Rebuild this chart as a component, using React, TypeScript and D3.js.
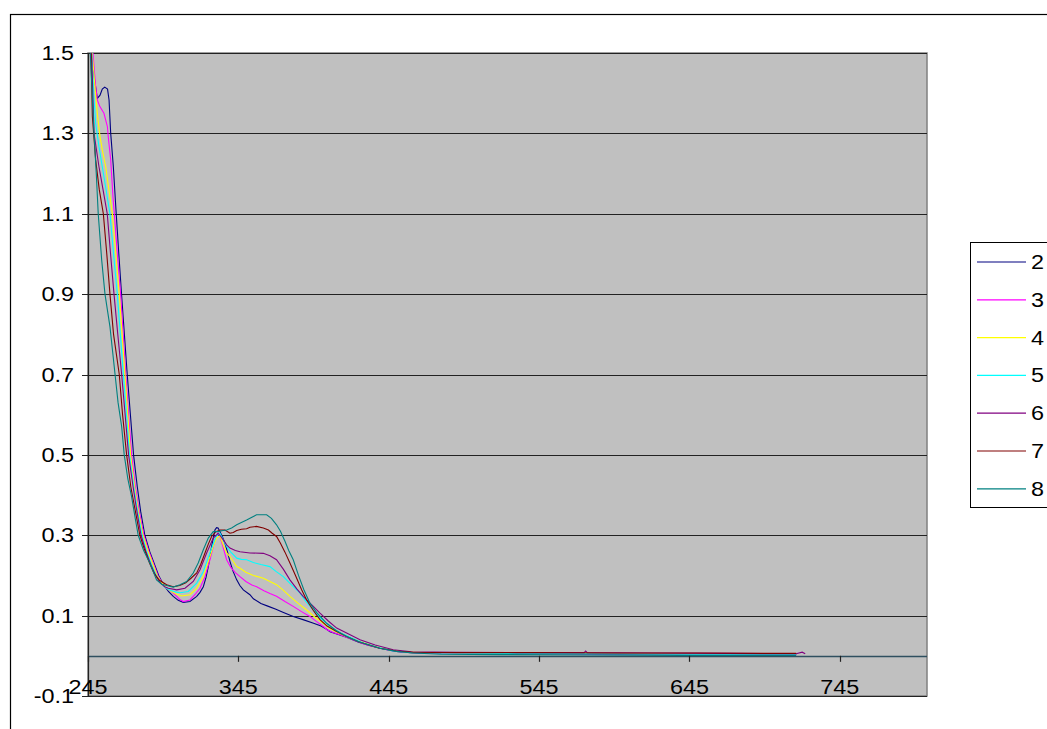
import React from "react";
import * as d3 from "d3";

// Absorbance spectra (wavelength nm, absorbance) for samples 2–8
type Pt = [number, number];

const SERIES_NAMES = ["2", "3", "4", "5", "6", "7", "8"];
const SERIES_COLORS = ["#000080", "#FF00FF", "#FFFF00", "#00FFFF", "#800080", "#800000", "#008080"];

const X_TICKS = [245, 345, 445, 545, 645, 745];
const Y_TICKS = [-0.1, 0.1, 0.3, 0.5, 0.7, 0.9, 1.1, 1.3, 1.5];

const series2: Pt[] = [
  [245, 1.75], [247.2, 1.5], [249.5, 1.43], [251.2, 1.387], [253, 1.395], [254.5, 1.41], [256.1, 1.415],
  [258, 1.41], [259, 1.383], [260.1, 1.3], [261.8, 1.22], [263.6, 1.11], [265.5, 1.0], [267.3, 0.9],
  [269.2, 0.8], [271.1, 0.7], [273.2, 0.6], [275.3, 0.5], [277.8, 0.42], [280, 0.36], [282.8, 0.3],
  [286, 0.26], [289.5, 0.225], [292, 0.2], [295, 0.178], [298.5, 0.16], [301.7, 0.148], [305, 0.138],
  [308.4, 0.133], [312.8, 0.135], [317.3, 0.148], [319.5, 0.158], [321.7, 0.172], [323.5, 0.195],
  [325, 0.222], [327.2, 0.272], [329.4, 0.313], [330.5, 0.319], [331.5, 0.318], [332.8, 0.309],
  [334.5, 0.295], [336.1, 0.28], [337.8, 0.258], [339.4, 0.235], [341.5, 0.21], [343.9, 0.189],
  [346, 0.175], [348.3, 0.164], [352.7, 0.152], [355, 0.142], [360, 0.13], [365, 0.123], [370, 0.116],
  [375, 0.108], [381.5, 0.098], [388, 0.09], [395, 0.081], [400, 0.074], [403.7, 0.066], [406, 0.06],
  [410, 0.055], [417, 0.046], [425, 0.034], [432, 0.026], [440, 0.018], [450, 0.011], [460, 0.008],
  [480, 0.006], [520, 0.005], [560, 0.005], [600, 0.004], [640, 0.004], [680, 0.004], [716, 0.004],
];

const series3: Pt[] = [
  [245, 1.78], [248.3, 1.5], [250, 1.42], [251.2, 1.383], [253, 1.366], [255.6, 1.35], [257.9, 1.317],
  [258.5, 1.29], [260.1, 1.234], [261.6, 1.143], [262.5, 1.1], [264.5, 1.0], [266.7, 0.9], [268.4, 0.8],
  [270.1, 0.7], [272, 0.6], [274, 0.5], [276.5, 0.42], [279, 0.36], [282.2, 0.3], [285.5, 0.26],
  [289, 0.225], [291.5, 0.2], [294.5, 0.18], [297.5, 0.168], [300.6, 0.16], [304, 0.148], [306, 0.14],
  [308.4, 0.135], [312.8, 0.139], [316.1, 0.152], [319.5, 0.168], [322.8, 0.197], [326.1, 0.239],
  [328.3, 0.272], [330, 0.295], [331.2, 0.305], [332.5, 0.3], [334.5, 0.275], [337.2, 0.239],
  [340, 0.22], [343, 0.207], [346.1, 0.197], [350, 0.185], [354, 0.176], [357.2, 0.172], [362, 0.162],
  [366, 0.155], [370.4, 0.148], [376, 0.135], [381.5, 0.123], [387, 0.11], [392.6, 0.098], [397, 0.085],
  [401.5, 0.073], [404, 0.065], [408, 0.058], [413, 0.052], [420, 0.042], [428, 0.03], [436, 0.022],
  [445, 0.014], [455, 0.009], [470, 0.007], [500, 0.006], [540, 0.006], [580, 0.005], [620, 0.005],
  [660, 0.004], [700, 0.004], [716, 0.004],
];

const series4: Pt[] = [
  [245, 1.8], [247.8, 1.5], [250, 1.4], [251.2, 1.35], [253, 1.292], [254.5, 1.259], [256.8, 1.217],
  [258.3, 1.176], [261.2, 1.1], [263.5, 1.0], [265.8, 0.9], [267.7, 0.8], [269.6, 0.7], [271.5, 0.6],
  [273.3, 0.5], [276, 0.42], [278.5, 0.36], [281.6, 0.3], [285, 0.26], [288.5, 0.225], [291, 0.2],
  [294, 0.182], [297, 0.17], [300.6, 0.16], [304, 0.153], [307.3, 0.149], [312.8, 0.152], [317.3, 0.168],
  [321.7, 0.197], [326.1, 0.247], [328.5, 0.275], [330.5, 0.293], [332.8, 0.298], [334.5, 0.28],
  [337.2, 0.256], [339.4, 0.247], [343.9, 0.222], [346.1, 0.218], [350, 0.208], [355, 0.2],
  [361.6, 0.193], [366, 0.185], [370.4, 0.177], [375, 0.163], [379.3, 0.148], [385, 0.13],
  [390.4, 0.114], [396, 0.096], [401.5, 0.081], [405, 0.07], [410, 0.06], [417, 0.048], [425, 0.036],
  [435, 0.024], [445, 0.015], [455, 0.01], [470, 0.008], [520, 0.007], [580, 0.006], [640, 0.005],
  [700, 0.005], [716, 0.005],
];

const series5: Pt[] = [
  [245, 1.78], [247.5, 1.5], [248.8, 1.4], [250.1, 1.325], [252.3, 1.267], [254.5, 1.217], [257, 1.16],
  [259.6, 1.1], [262, 1.0], [264.5, 0.9], [266.5, 0.8], [268.5, 0.7], [270.6, 0.6], [272.6, 0.5],
  [275.5, 0.42], [278, 0.36], [281, 0.3], [284, 0.26], [287.5, 0.225], [290.5, 0.2], [293.5, 0.18],
  [296.5, 0.17], [299.5, 0.164], [303, 0.159], [306.2, 0.157], [311.7, 0.16], [317.3, 0.181],
  [321.7, 0.21], [326.1, 0.256], [330.1, 0.297], [332.8, 0.305], [334.8, 0.29], [337.2, 0.272],
  [340, 0.258], [343.9, 0.243], [347, 0.24], [350.5, 0.239], [355, 0.232], [360, 0.227], [366, 0.222],
  [370, 0.21], [374.9, 0.197], [380, 0.178], [386, 0.156], [390, 0.135], [394.8, 0.114], [399, 0.096],
  [403.7, 0.081], [408, 0.068], [413, 0.057], [420, 0.045], [428, 0.032], [437, 0.022], [447, 0.013],
  [458, 0.009], [480, 0.007], [530, 0.006], [590, 0.005], [650, 0.004], [700, 0.004], [716, 0.004],
];

const series6: Pt[] = [
  [245, 1.76], [247.4, 1.5], [249, 1.3], [252.3, 1.217], [255, 1.16], [257.8, 1.1], [260, 1.0],
  [262.3, 0.9], [264.8, 0.8], [267.4, 0.7], [269.7, 0.6], [272, 0.5], [275, 0.42], [277.5, 0.36],
  [280.3, 0.3], [283.5, 0.26], [287, 0.225], [290, 0.2], [293, 0.182], [296, 0.172], [298.4, 0.168],
  [304, 0.164], [309.5, 0.168], [315, 0.185], [319.5, 0.214], [323.9, 0.256], [328.3, 0.293],
  [331.6, 0.305], [334.9, 0.289], [337.2, 0.276], [339.4, 0.268], [343, 0.262], [346.1, 0.259],
  [352.7, 0.256], [361.6, 0.255], [366, 0.249], [370.4, 0.239], [375, 0.215], [379.3, 0.189],
  [384, 0.166], [388.1, 0.148], [394, 0.126], [399.3, 0.106], [405, 0.086], [410.4, 0.069],
  [418, 0.055], [425.9, 0.04], [436, 0.027], [448, 0.015], [460, 0.01], [490, 0.009], [530, 0.008],
  [575, 0.008], [576, 0.012], [577, 0.008], [620, 0.007], [670, 0.006], [716, 0.005], [720, 0.009],
  [722, 0.005],
];

const series7: Pt[] = [
  [245, 1.74], [247, 1.5], [247.9, 1.342], [250.1, 1.234], [252.5, 1.16], [255.2, 1.1], [257.5, 1.0],
  [259.6, 0.9], [262, 0.8], [265.8, 0.7], [268, 0.6], [270.7, 0.5], [273.5, 0.42], [276.5, 0.36],
  [279.5, 0.3], [282.5, 0.265], [286, 0.23], [289, 0.205], [292.5, 0.188], [297.3, 0.177],
  [301.7, 0.172], [306, 0.175], [310, 0.182], [313.5, 0.193], [317.3, 0.206], [320, 0.228],
  [322.8, 0.256], [325, 0.278], [327.2, 0.297], [330.1, 0.309], [333, 0.313], [336.1, 0.313],
  [339.4, 0.305], [341.6, 0.307], [343.9, 0.312], [347, 0.315], [350.5, 0.316], [352.7, 0.32],
  [357, 0.322], [361.6, 0.318], [365, 0.313], [367.5, 0.305], [370.4, 0.297], [373, 0.28],
  [376, 0.258], [379.3, 0.231], [383, 0.2], [387, 0.165], [390.4, 0.139], [395, 0.112], [399.3, 0.09],
  [404, 0.074], [410, 0.061], [417, 0.048], [425, 0.035], [439, 0.019], [450, 0.012], [461, 0.009],
  [490, 0.008], [540, 0.008], [600, 0.007], [650, 0.007], [700, 0.006], [716, 0.006],
];

const series8: Pt[] = [
  [245, 1.72], [246.5, 1.5], [249, 1.3], [250.5, 1.2], [251.8, 1.1], [254.1, 0.985], [256.3, 0.9],
  [259.6, 0.819], [263, 0.7], [265, 0.63], [267.4, 0.57], [269.1, 0.5], [271.5, 0.44], [274, 0.396],
  [276.5, 0.34], [278.4, 0.3], [282, 0.262], [286.2, 0.23], [290.6, 0.189], [294, 0.178],
  [297.3, 0.175], [301.7, 0.171], [306.2, 0.177], [310.6, 0.185], [315, 0.206], [318.3, 0.231],
  [321.7, 0.264], [325, 0.293], [328.3, 0.309], [331.6, 0.309], [334, 0.311], [337.2, 0.313],
  [340.5, 0.318], [343.9, 0.326], [347, 0.332], [350.5, 0.338], [354, 0.345], [357.1, 0.351],
  [360, 0.351], [363.8, 0.351], [367, 0.342], [370.4, 0.326], [373, 0.31], [376, 0.285],
  [378.5, 0.262], [381.5, 0.239], [385, 0.2], [388.5, 0.165], [392.6, 0.131], [397, 0.108],
  [403.7, 0.081], [410, 0.063], [417, 0.048], [425, 0.035], [439, 0.019], [450, 0.011], [461, 0.007],
  [480, 0.004], [520, 0.003], [580, 0.002], [640, 0.001], [700, 0.001], [716, 0.001],
];

const SERIES_DATA = [series2, series3, series4, series5, series6, series7, series8];

const W = 1047;
const H = 729;
const PLOT = { left: 88, top: 53, right: 927, bottom: 696 };
const FONT = "'Liberation Sans', Arial, sans-serif";
const FONT_SIZE = 19.5;
const STRETCH = 1.2;

export default function App() {
  const x = d3.scaleLinear().domain([245, 803]).range([PLOT.left, PLOT.right]);
  const y = d3.scaleLinear().domain([-0.1, 1.5]).range([PLOT.bottom, PLOT.top]);
  const line = d3
    .line<Pt>()
    .x((d) => x(d[0]))
    .y((d) => y(d[1]));
  const y0 = y(0);

  const legend = { x: 970, y: 242, w: 100, h: 265, lineX1: 977, lineX2: 1026, textX: 1031, firstY: 262, step: 37.8 };

  return (
    <svg
      width={W}
      height={H}
      style={{ position: "absolute", left: 0, top: 0, background: "#fff" }}
      fontFamily={FONT}
    >
      <defs>
        <clipPath id="plot-clip">
          <rect x={PLOT.left} y={PLOT.top} width={PLOT.right - PLOT.left} height={PLOT.bottom - PLOT.top} />
        </clipPath>
      </defs>

      {/* chart frame */}
      <rect x={10.5} y={14.5} width={W + 20} height={H + 20} fill="#fff" stroke="#000" strokeWidth={1.2} />

      {/* plot area */}
      <rect
        x={PLOT.left}
        y={PLOT.top}
        width={PLOT.right - PLOT.left}
        height={PLOT.bottom - PLOT.top}
        fill="#C0C0C0"
        stroke="#808080"
        strokeWidth={1.5}
      />

      {/* horizontal gridlines */}
      {Y_TICKS.map((t) => (
        <line
          key={"g" + t}
          x1={PLOT.left}
          x2={PLOT.right}
          y1={Math.round(y(t)) + 0.5}
          y2={Math.round(y(t)) + 0.5}
          stroke="#222"
          strokeWidth={1}
        />
      ))}

      {/* y axis */}
      <line x1={PLOT.left + 0.5} x2={PLOT.left + 0.5} y1={PLOT.top} y2={PLOT.bottom} stroke="#222" strokeWidth={1.2} />
      {Y_TICKS.map((t) => (
        <g key={"yt" + t}>
          <line x1={PLOT.left - 6} x2={PLOT.left} y1={Math.round(y(t)) + 0.5} y2={Math.round(y(t)) + 0.5} stroke="#222" />
          <text
            transform={`translate(${PLOT.left - 14},${y(t) + 7}) scale(${STRETCH},1)`}
            textAnchor="end"
            fontSize={FONT_SIZE}
            fill="#000"
          >
            {t.toFixed(1)}
          </text>
        </g>
      ))}

      {/* data lines */}
      <g clipPath="url(#plot-clip)">
        {SERIES_DATA.map((s, i) => (
          <path key={SERIES_NAMES[i]} d={line(s) || ""} fill="none" stroke={SERIES_COLORS[i]} strokeWidth={1.1} />
        ))}
      </g>

      {/* x axis at zero */}
      <line x1={PLOT.left} x2={PLOT.right} y1={Math.round(y0) + 0.5} y2={Math.round(y0) + 0.5} stroke="#2f4f5f" strokeWidth={1.3} />
      {X_TICKS.map((t) => (
        <g key={"xt" + t}>
          <line x1={Math.round(x(t)) + 0.5} x2={Math.round(x(t)) + 0.5} y1={y0} y2={y0 + 6} stroke="#222" strokeWidth={1.2} />
          <text
            transform={`translate(${x(t)},${694}) scale(${STRETCH},1)`}
            textAnchor="middle"
            fontSize={FONT_SIZE}
            fill="#000"
          >
            {t}
          </text>
        </g>
      ))}

      {/* legend */}
      <rect x={legend.x + 0.5} y={legend.y + 0.5} width={legend.w} height={legend.h} fill="#fff" stroke="#000" strokeWidth={1} />
      {SERIES_NAMES.map((name, i) => {
        const ly = legend.firstY + i * legend.step;
        return (
          <g key={"lg" + name}>
            <line x1={legend.lineX1} x2={legend.lineX2} y1={ly} y2={ly} stroke={SERIES_COLORS[i]} strokeWidth={1.2} />
            <text
              transform={`translate(${legend.textX},${ly + 7}) scale(${STRETCH},1)`}
              fontSize={FONT_SIZE}
              fill="#000"
            >
              {name}
            </text>
          </g>
        );
      })}
    </svg>
  );
}
